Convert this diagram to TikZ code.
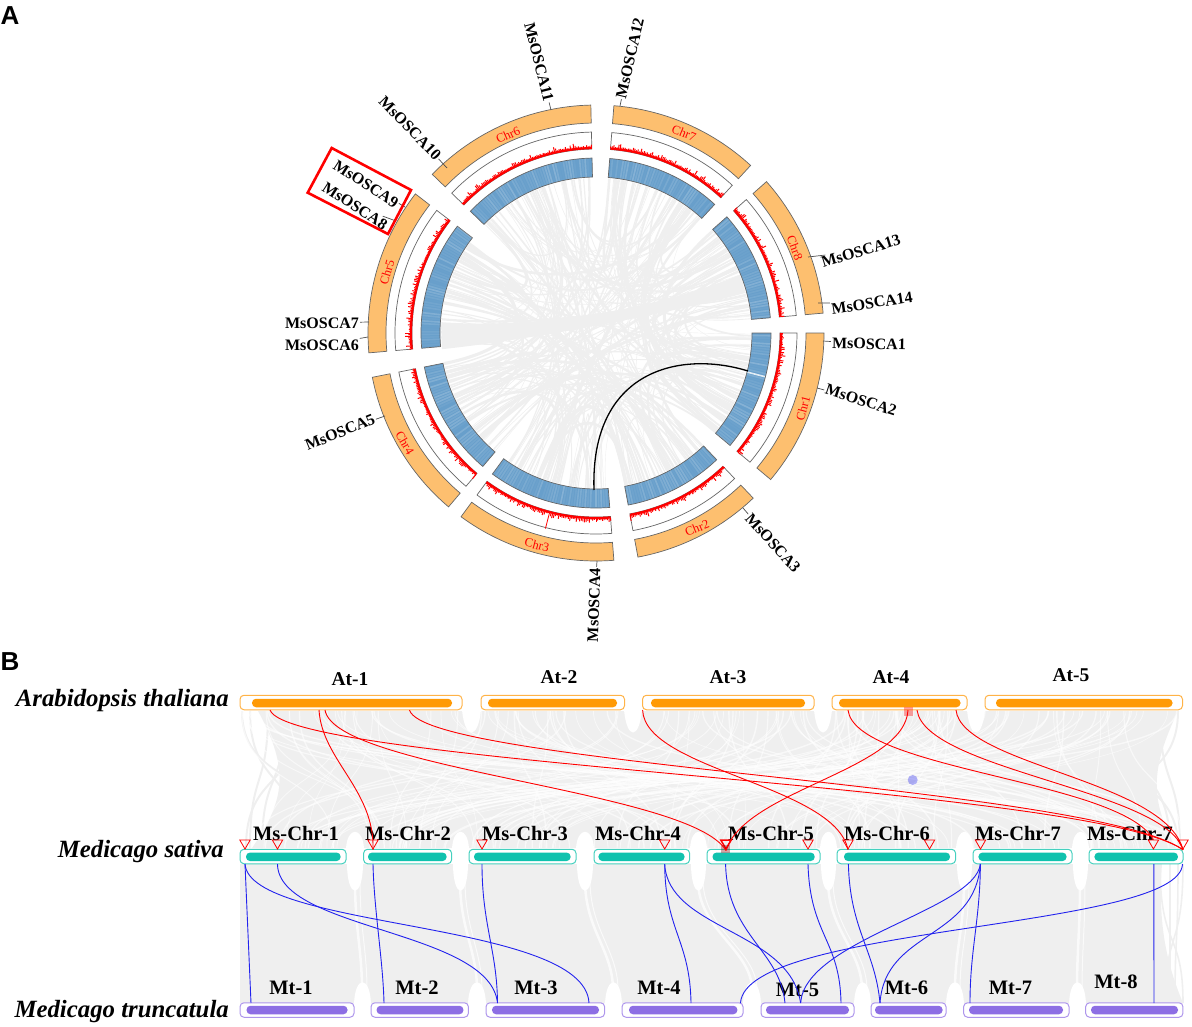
\documentclass[tikz,border=0pt]{standalone}
\usepackage{fontspec}
\setmainfont{Liberation Serif}
\newfontfamily\panelfont{Liberation Sans}
\usetikzlibrary{shapes.geometric}

\definecolor{ringorange}{HTML}{FDBF6F}
\definecolor{ringblue}{HTML}{689FCB}
\definecolor{ribbon}{HTML}{EFEFEF}
\definecolor{atline}{HTML}{FFB347}
\definecolor{atfill}{HTML}{FF9A05}
\definecolor{msline}{HTML}{45D0BE}
\definecolor{msfill}{HTML}{10C2AE}
\definecolor{mtline}{HTML}{AE96EC}
\definecolor{mtfill}{HTML}{8D6EE4}
\definecolor{linkblue}{HTML}{2222EE}

\tikzset{
  outerbox/.style={draw,fill=white,rounded corners=4pt,line width=1pt,inner sep=0pt,outer sep=0pt,minimum height=14.5pt},
  innerbox/.style={rounded corners=4pt,inner sep=0pt,outer sep=0pt,minimum height=8.5pt},
  atbox/.style={outerbox,draw=atline},
  msbox/.style={outerbox,draw=msline},
  mtbox/.style={outerbox,draw=mtline},
  atbar/.style={innerbox,fill=atfill},
  msbar/.style={innerbox,fill=msfill},
  mtbar/.style={innerbox,fill=mtfill},
  genelabel/.style={font=\fontsize{16}{17}\selectfont\bfseries,inner sep=1pt},
  chrlabel/.style={font=\fontsize{12.5}{13}\selectfont,text=red,inner sep=0pt},
  rowlabel/.style={font=\fontsize{20.5}{21}\selectfont\bfseries,inner sep=0pt},
  toplabel/.style={font=\fontsize{19.5}{20}\selectfont\bfseries,inner sep=0pt},
  species/.style={font=\fontsize{24.8}{25}\selectfont\bfseries\itshape,inner sep=0pt},
  panel/.style={font=\fontsize{26}{26}\selectfont\bfseries\panelfont,inner sep=0pt},
  tick/.style={draw=black!70,line width=0.7pt},
  sector/.style={draw=black!60,line width=0.7pt},
  redlink/.style={draw=red,line width=0.9pt},
  bluelink/.style={draw=linkblue,line width=0.9pt},
  tri/.style={regular polygon,regular polygon sides=3,shape border rotate=180,draw=red,line width=0.8pt,inner sep=0pt,minimum size=12pt},
}

\begin{document}
\begin{tikzpicture}[x=1pt,y=-1pt]
\useasboundingbox (0,0) rectangle (1192,1027);
\pgfmathsetseed{4217}

\node[panel] (panelA) at (10,16) {A};
\node[panel] (panelB) at (10,662) {B};

% circle
\begin{scope}[shift={(596,333)},y=1pt]
\def\secstart{{0,-46.4,-85.5,-130.3,-175,135.9,85.5,41.6}}
\def\secspan{{40,33,40.8,38.5,42.6,44.6,38.2,36.6}}
\foreach \i in {1,...,250}{
  \pgfmathsetmacro\ka{int(random(0,7))}
  \pgfmathsetmacro\kb{int(random(0,7))}
  \pgfmathsetmacro\aa{\secstart[\ka]-rnd*\secspan[\ka]}
  \pgfmathsetmacro\bb{\secstart[\kb]-rnd*\secspan[\kb]}
  \pgfmathsetmacro\wd{0.4+rnd*rnd*3.5}
  \pgfmathsetmacro\rr{25+rnd*55}
  \draw[ribbon,line width=\wd pt] (\aa:155pt) .. controls (\aa:\rr pt) and (\bb:\rr pt) .. (\bb:155pt);
}
\fill[ribbon] (176:155pt) .. controls (176:60pt) and (22:60pt) .. (22:155pt) -- (15:155pt) .. controls (15:70pt) and (186:70pt) .. (186:155pt) -- cycle;
\foreach \sa/\ea in {0/-40,-46.4/-79.4,-85.5/-126.3,-130.3/-168.8,-175/-217.6,135.9/91.3,85.5/47.3,41.6/5}{
  \draw[sector,fill=ringorange] (\sa:228pt) arc[start angle=\sa,end angle=\ea,radius=228pt] -- (\ea:210pt) arc[start angle=\ea,end angle=\sa,radius=210pt] -- cycle;
  \draw[sector,fill=white] (\sa:201pt) arc[start angle=\sa,end angle=\ea,radius=201pt] -- (\ea:184pt) arc[start angle=\ea,end angle=\sa,radius=184pt] -- cycle;
  \draw[sector,fill=ringblue] (\sa:175pt) arc[start angle=\sa,end angle=\ea,radius=175pt] -- (\ea:156pt) arc[start angle=\ea,end angle=\sa,radius=156pt] -- cycle;
  \draw[red,line width=2.2pt] (\sa:185pt) arc[start angle=\sa,end angle=\ea,radius=185pt];
  \pgfmathsetmacro\sb{\sa-0.5}
  \foreach \t in {\sa,\sb,...,\ea}{
    \pgfmathsetmacro\hh{186.5+rnd*rnd*5}
    \draw[red,line width=1pt] (\t:185.5pt) -- (\t:\hh pt);
  }
  \pgfmathsetmacro\sc{\sa-0.9}
  \pgfmathsetmacro\sd{\sa-1.8}
  \foreach \t in {\sc,\sd,...,\ea}{
    \pgfmathsetmacro\op{rnd*0.2}
    \draw[white,opacity=\op,line width=1.6pt] (\t:156.5pt) -- (\t:174.5pt);
  }
}
\draw[white,opacity=0.8,line width=1.6pt] (-14.5:156.5pt) -- (-14.5:174.5pt);
\draw[red,line width=0.8pt] (-104.5:187pt) -- (-104.5:202pt);
\end{scope}

% link
\coordinate (linkA) at (748,371);
\coordinate (linkB) at (594,490);
\draw[black,line width=1.3pt] (linkA) .. controls (680,350) and (590,370) .. (linkB);

% chromosome names
\node[chrlabel,rotate=75] (c1) at (803,408) {Chr1};
\node[chrlabel,rotate=22] (c2) at (697,528) {Chr2};
\node[chrlabel,rotate=-15] (c3) at (537,545) {Chr3};
\node[chrlabel,rotate=-60] (c4) at (405,443) {Chr4};
\node[chrlabel,rotate=73] (c5) at (387,272) {Chr5};
\node[chrlabel,rotate=24] (c6) at (508,135) {Chr6};
\node[chrlabel,rotate=-22] (c7) at (684,133) {Chr7};
\node[chrlabel,rotate=-70] (c8) at (795,248) {Chr8};

% gene names
\node[genelabel,rotate=-1] (o1) at (869,344) {MsOSCA1};
\node[genelabel,rotate=-18] (o2) at (861,400) {MsOSCA2};
\node[genelabel,rotate=-48] (o3) at (773,543) {MsOSCA3};
\node[genelabel,rotate=88] (o4) at (594,605) {MsOSCA4};
\node[genelabel,rotate=22] (o5) at (340,432) {MsOSCA5};
\node[genelabel] (o6) at (322,345) {MsOSCA6};
\node[genelabel] (o7) at (322,323) {MsOSCA7};
\node[genelabel,rotate=-33] (o8) at (355,206) {MsOSCA8};
\node[genelabel,rotate=-33] (o9) at (366,184) {MsOSCA9};
\node[genelabel,rotate=-46] (o10) at (410,128) {MsOSCA10};
\node[genelabel,rotate=-76] (o11) at (539,62) {MsOSCA11};
\node[genelabel,rotate=77] (o12) at (630,58) {MsOSCA12};
\node[genelabel,rotate=17] (o13) at (861,251) {MsOSCA13};
\node[genelabel,rotate=9] (o14) at (872,303) {MsOSCA14};

\coordinate (t1) at (823,341);
\coordinate (t2) at (817,388);
\coordinate (t3) at (743,508);
\coordinate (t4) at (597,561);
\coordinate (t5) at (385,416);
\coordinate (t6) at (368,337);
\coordinate (t7) at (369,322);
\coordinate (t8) at (396,221);
\coordinate (t9) at (405,207);
\coordinate (t10) at (447,168);
\coordinate (t11) at (551,110);
\coordinate (t12) at (620,106);
\coordinate (t13) at (808,257);
\coordinate (t14) at (818,303);
\draw[tick] (o1) -- (t1);
\draw[tick] (o2) -- (t2);
\draw[tick] (o3) -- (t3);
\draw[tick] (o4) -- (t4);
\draw[tick] (o5) -- (t5);
\draw[tick] (o6) -- (t6);
\draw[tick] (o7) -- (t7);
\draw[tick] (o8) -- (t8);
\draw[tick] (o9) -- (t9);
\draw[tick] (o10) -- (t10);
\draw[tick] (o11) -- (t11);
\draw[tick] (o12) -- (t12);
\draw[tick] (o13) -- (t13);
\draw[tick] (o14) -- (t14);

\draw[red,line width=2.6pt] (331.7,148) -- (411,190) -- (388,234) -- (307.7,192.7) -- cycle;

% grey bands
\fill[ribbon] (258,711) .. controls (290,770) and (285,800) .. (252,848) -- (1176,848) .. controls (1150,800) and (1150,770) .. (1178,711) -- cycle;
\fill[ribbon] (240,864) -- (1162,864) .. controls (1158,920) and (1165,960) .. (1183,1003) -- (240,1003) -- cycle;
\foreach \xa/\xb in {242/340,250/300,300/246,268/250,285/262,1178/1100,1160/1180,1130/1170,1095/1178}{
  \draw[ribbon,line width=2pt] (\xa,711) .. controls (\xa,790) and (\xb,770) .. (\xb,848);
}
\foreach \xa/\xb in {1170/1170,1165/1183,1183/1160,1175/1178}{
  \draw[ribbon,line width=1.6pt] (\xb,864) .. controls (\xb,950) and (\xa,930) .. (\xa,1003);
}
\def\topstart{{240,481,642,832,985}}
\def\topspan{{222,143,172,135,197}}
\def\midstart{{240,364,469,594,707,837,973,1089}}
\def\midspan{{106,88,107,96,113,119,99,94}}
\foreach \i in {1,...,170}{
  \pgfmathsetmacro\ka{int(random(0,4))}
  \pgfmathsetmacro\kb{int(random(0,7))}
  \pgfmathsetmacro\aa{\topstart[\ka]+rnd*\topspan[\ka]}
  \pgfmathsetmacro\bb{\midstart[\kb]+rnd*\midspan[\kb]}
  \pgfmathsetmacro\wd{0.5+rnd}
  \draw[white,opacity=0.6,line width=\wd pt] (\aa,711) .. controls (\aa,790) and (\bb,770) .. (\bb,848);
}
\foreach \xa/\xb in {462/481,624/642,814/832,967/985}{
  \fill[white] (\xa,710) .. controls (\xa+3,740) and (\xb-3,740) .. (\xb,710);
}
\foreach \xa/\xb in {346/364,452/469,576/594,690/707,820/837,956/973,1072/1089}{
  \fill[white] (\xa,849) .. controls (\xa+1,826) and (\xb-1,826) .. (\xb,849);
  \fill[white] (\xa+1,863) .. controls (\xa+1,900) and (\xb-1,900) .. (\xb-1,863);
}
\foreach \xa/\xb in {354/371,468/486,605/622,743/761,854/871,946/964,1069/1086}{
  \fill[white] (\xa,1004) .. controls (\xa+1,975) and (\xb-1,975) .. (\xb,1004);
}
\foreach \xa/\xb in {355/362,460/477,585/613,698/752,828/862,964/955,1080/1077}{
  \draw[white,line width=2.5pt,opacity=0.7] (\xa,880) .. controls (\xa,930) and (\xb,950) .. (\xb,990);
  \draw[white,line width=1pt,opacity=0.7] (\xa+5,880) .. controls (\xa+5,930) and (\xb+5,950) .. (\xb+5,990);
}

% top row
\node[atbox,minimum width=222pt] (At1) at (351,702.5) {};
\node[atbox,minimum width=143.5pt] (At2) at (552.75,702.5) {};
\node[atbox,minimum width=171.5pt] (At3) at (728.25,702.5) {};
\node[atbox,minimum width=135pt] (At4) at (899.5,702.5) {};
\node[atbox,minimum width=197.5pt] (At5) at (1083.75,702.5) {};
\node[atbar,minimum width=200pt] (At1i) at (352,703) {};
\node[atbar,minimum width=129pt] (At2i) at (552.5,703) {};
\node[atbar,minimum width=154pt] (At3i) at (728,703) {};
\node[atbar,minimum width=121.5pt] (At4i) at (899.75,703) {};
\node[atbar,minimum width=176.5pt] (At5i) at (1084.25,703) {};

% middle row
\node[msbox,minimum width=106pt] (Ms1) at (293,856.5) {};
\node[msbox,minimum width=88pt] (Ms2) at (407.6,856.5) {};
\node[msbox,minimum width=107pt] (Ms3) at (522.5,856.5) {};
\node[msbox,minimum width=95.6pt] (Ms4) at (641.8,856.5) {};
\node[msbox,minimum width=113pt] (Ms5) at (763.5,856.5) {};
\node[msbox,minimum width=118.6pt] (Ms6) at (896.3,856.5) {};
\node[msbox,minimum width=99pt] (Ms7) at (1022.5,856.5) {};
\node[msbox,minimum width=94pt] (Ms8) at (1136,856.5) {};
\node[msbar,minimum width=94.6pt] (Ms1i) at (293.3,856.8) {};
\node[msbar,minimum width=78.6pt] (Ms2i) at (407.3,856.8) {};
\node[msbar,minimum width=96.6pt] (Ms3i) at (522.3,856.8) {};
\node[msbar,minimum width=86.1pt] (Ms4i) at (641.5,856.8) {};
\node[msbar,minimum width=102.2pt] (Ms5i) at (763.6,856.8) {};
\node[msbar,minimum width=106pt] (Ms6i) at (897,856.8) {};
\node[msbar,minimum width=88.1pt] (Ms7i) at (1022.5,856.8) {};
\node[msbar,minimum width=83.5pt] (Ms8i) at (1136.2,856.8) {};

% bottom row
\node[mtbox,minimum width=114pt] (Mt1) at (297,1010) {};
\node[mtbox,minimum width=97.4pt] (Mt2) at (419.7,1010) {};
\node[mtbox,minimum width=118.6pt] (Mt3) at (545.3,1010) {};
\node[mtbox,minimum width=121pt] (Mt4) at (682.5,1010) {};
\node[mtbox,minimum width=93pt] (Mt5) at (807.5,1010) {};
\node[mtbox,minimum width=75pt] (Mt6) at (908.5,1010) {};
\node[mtbox,minimum width=105.4pt] (Mt7) at (1016.3,1010) {};
\node[mtbox,minimum width=97.3pt] (Mt8) at (1134.3,1010) {};
\node[mtbar,minimum width=101pt] (Mt1i) at (297,1010) {};
\node[mtbar,minimum width=86.9pt] (Mt2i) at (420,1010) {};
\node[mtbar,minimum width=107pt] (Mt3i) at (545.5,1010) {};
\node[mtbar,minimum width=108.4pt] (Mt4i) at (683.2,1010) {};
\node[mtbar,minimum width=83pt] (Mt5i) at (807.5,1010) {};
\node[mtbar,minimum width=67.6pt] (Mt6i) at (908.8,1010) {};
\node[mtbar,minimum width=94pt] (Mt7i) at (1016,1010) {};
\node[mtbar,minimum width=87pt] (Mt8i) at (1134.5,1010) {};

% row names
\node[toplabel] (At1n) at (350,679) {At-1};
\node[toplabel] (At2n) at (559,677) {At-2};
\node[toplabel] (At3n) at (728,677) {At-3};
\node[toplabel] (At4n) at (891,677) {At-4};
\node[toplabel] (At5n) at (1071,675) {At-5};
\node[rowlabel] (Ms1n) at (296,833) {Ms-Chr-1};
\node[rowlabel] (Ms2n) at (408,833) {Ms-Chr-2};
\node[rowlabel] (Ms3n) at (525,833) {Ms-Chr-3};
\node[rowlabel] (Ms4n) at (638,833) {Ms-Chr-4};
\node[rowlabel] (Ms5n) at (771,833) {Ms-Chr-5};
\node[rowlabel] (Ms6n) at (887,833) {Ms-Chr-6};
\node[rowlabel] (Ms7n) at (1018,833) {Ms-Chr-7};
\node[rowlabel] (Ms8n) at (1130,833) {Ms-Chr-7};
\node[rowlabel] (Mt1n) at (291,988) {Mt-1};
\node[rowlabel] (Mt2n) at (417,988) {Mt-2};
\node[rowlabel] (Mt3n) at (536,988) {Mt-3};
\node[rowlabel] (Mt4n) at (659,988) {Mt-4};
\node[rowlabel] (Mt5n) at (797.5,990) {Mt-5};
\node[rowlabel] (Mt6n) at (906.5,988) {Mt-6};
\node[rowlabel] (Mt7n) at (1010.5,988) {Mt-7};
\node[rowlabel] (Mt8n) at (1116,982) {Mt-8};
\node[species,anchor=east] (sp1) at (229,701) {Arabidopsis thaliana};
\node[species,anchor=east] (sp2) at (224,852) {Medicago sativa};
\node[species,anchor=east] (sp3) at (229,1012) {Medicago truncatula};

% markers
\node[tri] (m1) at (245,843) {};
\node[tri] (m2) at (277.5,843) {};
\node[tri] (m3) at (373,843) {};
\node[tri] (m4) at (482,843) {};
\node[tri] (m5) at (664.7,843) {};
\node[tri,line width=1.5pt] (m6) at (726,843) {};
\node[tri] (m7) at (808,843) {};
\node[tri] (m8) at (848,843) {};
\node[tri] (m9) at (929.5,843) {};
\node[tri] (m10) at (980.5,843) {};
\node[tri] (m11) at (1153.4,843) {};
\node[tri] (m12) at (1183,843) {};
\fill[red,opacity=0.35] (904,707) rectangle (913,716);
\fill[red!50!black,opacity=0.35] (721,845) rectangle (730,853);
\fill[linkblue,opacity=0.35] (912.7,780) circle[radius=5pt];

% red links
\coordinate (a1) at (270,710);
\coordinate (a2) at (319,710);
\coordinate (a3) at (325,710);
\coordinate (a4) at (409.5,710);
\coordinate (a5) at (642.6,710);
\coordinate (a6) at (908,710);
\coordinate (a7) at (848,710);
\coordinate (a8) at (917,710);
\coordinate (a9) at (956,710);
\draw[redlink] (a1) .. controls (290,765) and (1090,785) .. (m12.south);
\draw[redlink] (a2) .. controls (322,760) and (375,790) .. (m3.south);
\draw[redlink] (a3) .. controls (335,770) and (690,790) .. (m6.south);
\draw[redlink] (a4) .. controls (425,765) and (1090,785) .. (m12.south);
\draw[redlink] (a5) .. controls (645,770) and (835,785) .. (m8.south);
\draw[redlink] (a6) .. controls (905,770) and (745,790) .. (m6.south);
\draw[redlink] (a7) .. controls (855,770) and (1120,780) .. (m11.north);
\draw[redlink] (a8) .. controls (925,770) and (1165,790) .. (m12.south);
\draw[redlink] (a9) .. controls (962,765) and (1165,780) .. (m12.south);

% blue links
\coordinate (b1) at (245,864);
\coordinate (b2) at (277.5,864);
\coordinate (b3) at (373,864);
\coordinate (b4) at (482,864);
\coordinate (b5) at (664.7,864);
\coordinate (b6) at (725.6,864);
\coordinate (b7) at (808,864);
\coordinate (b8) at (848.4,864);
\coordinate (b9) at (980.4,864);
\coordinate (b10) at (1153.8,864);
\coordinate (b11) at (1182.5,864);
\coordinate (d1) at (251,1003);
\coordinate (d2) at (384,1003);
\coordinate (d3) at (497.5,1003);
\coordinate (d4) at (589,1003);
\coordinate (d5) at (691,1003);
\coordinate (d6) at (740.5,1003);
\coordinate (d7) at (785,1003);
\coordinate (d8) at (800.6,1003);
\coordinate (d9) at (841,1003);
\coordinate (d10) at (880,1003);
\coordinate (d11) at (970,1003);
\coordinate (d12) at (1154,1003);
\draw[bluelink] (b1) -- (d1);
\draw[bluelink] (b1) .. controls (250,930) and (585,920) .. (d4);
\draw[bluelink] (b2) .. controls (278,930) and (490,930) .. (d3);
\draw[bluelink] (b3) .. controls (374,910) and (383,960) .. (d2);
\draw[bluelink] (b4) .. controls (482,925) and (497,950) .. (d3);
\draw[bluelink] (b5) .. controls (665,930) and (690,940) .. (d5);
\draw[bluelink] (b5) .. controls (668,930) and (790,930) .. (d8);
\draw[bluelink] (b6) .. controls (727,935) and (780,950) .. (d7);
\draw[bluelink] (b7) .. controls (810,935) and (840,940) .. (d9);
\draw[bluelink] (b8) .. controls (850,930) and (875,950) .. (d10);
\draw[bluelink] (b9) .. controls (975,940) and (885,930) .. (d10);
\draw[bluelink] (b9) .. controls (975,910) and (805,940) .. (d8);
\draw[bluelink] (b9) .. controls (980,920) and (970,950) .. (d11);
\draw[bluelink] (b10) -- (d12);
\draw[bluelink] (b11) .. controls (1180,930) and (745,925) .. (d6);
\end{tikzpicture}
\end{document}
